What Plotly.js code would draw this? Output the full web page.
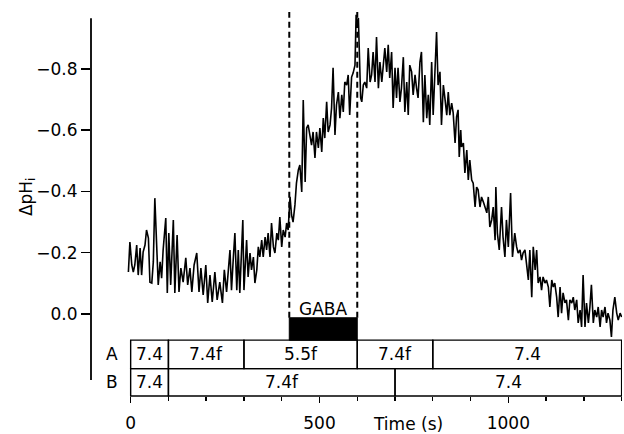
<!DOCTYPE html>
<html><head><meta charset="utf-8">
<script src="https://cdn.plot.ly/plotly-3.0.1.min.js"></script>
<style>html,body{margin:0;padding:0;background:#fff;}</style>
</head><body><div id="chart" style="width:624px;height:434px;"></div>
<script>
const timeS = [
-6,-2,3,7,11,16,20,25,29,33,
38,42,47,51,56,60,64,69,73,78,
82,86,93,97,101,106,113,117,123,128,
133,139,146,151,157,162,168,175,181,186,
192,199,204,210,216,223,229,236,243,248,
254,263,267,272,276,281,285,289,297,300,
307,311,316,320,325,329,334,338,342,347,
351,356,360,364,369,373,378,382,387,391,
395,400,404,409,413,417,422,426,430,435,
439,444,448,453,457,462,466,470,475,479,
483,488,492,497,501,506,510,514,519,523,
528,532,536,541,545,550,554,559,563,567,
572,576,580,585,589,594,597,600,603,606,
609,612,616,620,625,629,634,638,642,647,
651,656,660,665,669,673,678,682,686,691,
695,700,704,708,713,717,722,726,731,735,
739,744,748,753,757,761,766,770,775,779,
784,788,792,797,801,806,810,814,819,823,
828,832,837,841,845,850,854,859,863,867,
870,874,876,881,885,890,894,898,903,907,
912,916,920,925,929,934,938,943,947,951,
956,960,965,967,971,976,982,986,991,995,
1000,1006,1011,1017,1022,1026,1031,1035,1039,1044,
1048,1053,1057,1062,1066,1071,1075,1079,1084,1088,
1092,1097,1101,1106,1110,1115,1119,1123,1128,1132,
1137,1141,1145,1150,1154,1159,1163,1168,1172,1176,
1181,1185,1190,1194,1198,1203,1207,1212,1216,1220,
1225,1229,1234,1238,1243,1247,1251,1256,1260,1264,
1269,1273,1277,1282,1287,1291,1296,1300
];
const dpHi = [
-0.137,-0.235,-0.160,-0.137,-0.160,-0.225,-0.127,-0.215,-0.127,-0.202,
-0.225,-0.274,-0.248,-0.104,-0.101,-0.170,-0.378,-0.202,-0.095,-0.170,
-0.117,-0.209,-0.313,-0.069,-0.264,-0.095,-0.307,-0.069,-0.258,-0.072,
-0.150,-0.104,-0.183,-0.095,-0.150,-0.072,-0.160,-0.199,-0.072,-0.150,
-0.062,-0.160,-0.036,-0.127,-0.039,-0.137,-0.046,-0.104,-0.036,-0.144,
-0.072,-0.209,-0.078,-0.186,-0.264,-0.078,-0.209,-0.069,-0.307,-0.078,
-0.241,-0.121,-0.199,-0.144,-0.186,-0.101,-0.144,-0.219,-0.186,-0.241,
-0.186,-0.251,-0.209,-0.264,-0.186,-0.297,-0.219,-0.199,-0.264,-0.241,
-0.316,-0.219,-0.274,-0.251,-0.297,-0.274,-0.382,-0.323,-0.300,-0.356,
-0.427,-0.470,-0.486,-0.398,-0.698,-0.431,-0.607,-0.617,-0.584,-0.551,
-0.594,-0.509,-0.594,-0.542,-0.607,-0.529,-0.639,-0.574,-0.692,-0.594,
-0.617,-0.672,-0.803,-0.584,-0.682,-0.724,-0.639,-0.715,-0.659,-0.757,
-0.747,-0.780,-0.649,-0.773,-0.786,-0.812,-0.976,-0.933,-0.966,-0.790,
-0.705,-0.692,-0.747,-0.757,-0.737,-0.868,-0.757,-0.780,-0.855,-0.757,
-0.904,-0.737,-0.822,-0.757,-0.812,-0.868,-0.790,-0.878,-0.770,-0.855,
-0.672,-0.803,-0.705,-0.803,-0.692,-0.737,-0.838,-0.659,-0.757,-0.649,
-0.812,-0.790,-0.715,-0.780,-0.737,-0.705,-0.822,-0.855,-0.626,-0.780,
-0.639,-0.715,-0.617,-0.822,-0.649,-0.790,-0.920,-0.747,-0.790,-0.617,
-0.747,-0.705,-0.649,-0.724,-0.649,-0.688,-0.656,-0.558,-0.643,-0.666,
-0.512,-0.600,-0.545,-0.558,-0.460,-0.535,-0.437,-0.502,-0.437,-0.427,
-0.349,-0.414,-0.405,-0.349,-0.382,-0.365,-0.349,-0.330,-0.382,-0.284,
-0.307,-0.349,-0.241,-0.414,-0.264,-0.209,-0.349,-0.251,-0.186,-0.307,
-0.219,-0.395,-0.186,-0.264,-0.219,-0.199,-0.209,-0.176,-0.199,-0.209,
-0.166,-0.111,-0.209,-0.055,-0.219,-0.144,-0.209,-0.101,-0.121,-0.078,
-0.121,-0.101,-0.111,-0.088,-0.023,-0.111,-0.088,-0.101,-0.055,0.010,
-0.088,-0.003,-0.069,-0.036,-0.046,0.020,-0.046,-0.036,-0.055,-0.013,
-0.046,0.029,-0.013,0.042,-0.127,0.042,-0.036,0.029,-0.023,-0.095,
0.029,-0.013,0.010,-0.023,0.042,-0.013,0.010,-0.023,0.029,-0.003,
0.020,0.075,-0.013,-0.055,-0.003,0.020,-0.003,0.010
];
const xTickVals = [0, 500, 1000];
const xMinorTickVals = [100,200,300,400,600,700,800,900,1100,1200,1300];
const yTickVals = [0, -0.2, -0.4, -0.6, -0.8];
const gabaPeriod = [420, 600];
const gabaLabel = 'GABA';
const rowNames = ['A', 'B'];
const rowAStart = [0, 100, 300, 600, 800];
const rowAEnd = [100, 300, 600, 800, 1300];
const rowALabels = ['7.4', '7.4f', '5.5f', '7.4f', '7.4'];
const rowBStart = [0, 100, 700];
const rowBEnd = [100, 700, 1300];
const rowBLabels = ['7.4', '7.4f', '7.4'];

const FONT = 'DejaVu Sans, Liberation Sans, Arial, sans-serif';
const rowBands = [[0.0714, 0.1455], [0.0, 0.0714]];
const shapes = [];
const annotations = [];

// y axis line
shapes.push({type:'line', xref:'paper', yref:'paper', x0:0, x1:0, y0:0.0417, y1:0.984,
  line:{color:'#000', width:1.8}});

[[rowAStart, rowAEnd, rowALabels], [rowBStart, rowBEnd, rowBLabels]].forEach((row, ri) => {
  const [s, e, l] = row;
  const [b0, b1] = rowBands[ri];
  s.forEach((st, i) => {
    shapes.push({type:'rect', xref:'x', yref:'paper', x0:st, x1:e[i], y0:b0, y1:b1,
      line:{color:'#000', width:1.4}, fillcolor:'rgba(0,0,0,0)'});
    annotations.push({xref:'x', yref:'paper', x:(st + e[i]) / 2, y:(b0 + b1) / 2,
      text:l[i], showarrow:false, font:{family:FONT, size:17, color:'#000'},
      xanchor:'center', yanchor:'middle'});
  });
  annotations.push({xref:'paper', yref:'paper', x:0.0395, y:(b0 + b1) / 2,
    text:rowNames[ri], showarrow:false, font:{family:FONT, size:17, color:'#000'},
    xanchor:'center', yanchor:'middle'});
});

// GABA bar and dashed lines
shapes.push({type:'rect', xref:'x', yref:'paper', x0:gabaPeriod[0], x1:gabaPeriod[1],
  y0:0.1455, y1:0.2037, line:{color:'#000', width:1}, fillcolor:'#000'});
gabaPeriod.forEach(g => {
  shapes.push({type:'line', xref:'x', yref:'paper', x0:g, x1:g, y0:0.2037, y1:1.0,
    line:{color:'#000', width:2, dash:'6px,4px'}});
});
annotations.push({xref:'x', yref:'paper', x:(gabaPeriod[0] + gabaPeriod[1]) / 2, y:0.2266,
  text:gabaLabel, showarrow:false, font:{family:FONT, size:17, color:'#000'},
  xanchor:'center', yanchor:'middle'});

// axis titles
annotations.push({xref:'x', yref:'paper', x:734, y:-0.072, text:'Time (s)', showarrow:false,
  font:{family:FONT, size:17, color:'#000'}, xanchor:'center', yanchor:'middle'});
annotations.push({xref:'paper', yref:'paper', x:-0.1205, y:0.518, text:'ΔpH<sub>i</sub>',
  showarrow:false, textangle:-90, font:{family:FONT, size:17, color:'#000'},
  xanchor:'center', yanchor:'middle'});

const trace = {x: timeS, y: dpHi, type:'scatter', mode:'lines',
  line:{color:'#000', width:1.6}, hoverinfo:'skip'};

const layout = {
  width:624, height:434,
  margin:{l:91, r:2, t:12, b:38, pad:0},
  paper_bgcolor:'#fff', plot_bgcolor:'#fff',
  showlegend:false,
  font:{family:FONT, size:17, color:'#000'},
  xaxis:{range:[-105, 1301], showline:false, showgrid:false, zeroline:false,
    tickmode:'array', tickvals:xTickVals, ticks:'outside', ticklen:6, tickwidth:1.5,
    tickcolor:'#000', ticklabelstandoff:6, tickfont:{family:FONT, size:17, color:'#000'},
    minor:{tickmode:'array', tickvals:xMinorTickVals, ticks:'outside', ticklen:4,
      tickwidth:1.4, tickcolor:'#000', showgrid:false}},
  yaxis:{range:[0.2675, -0.9853], showline:false, showgrid:false, zeroline:false,
    tickmode:'array', tickvals:yTickVals, tickformat:'.1f', ticks:'outside', ticklen:9,
    tickwidth:1.5, tickcolor:'#000', tickfont:{family:FONT, size:17, color:'#000'}},
  shapes:shapes, annotations:annotations
};
Plotly.newPlot('chart', [trace], layout, {displayModeBar:false, staticPlot:true});
</script></body></html>
